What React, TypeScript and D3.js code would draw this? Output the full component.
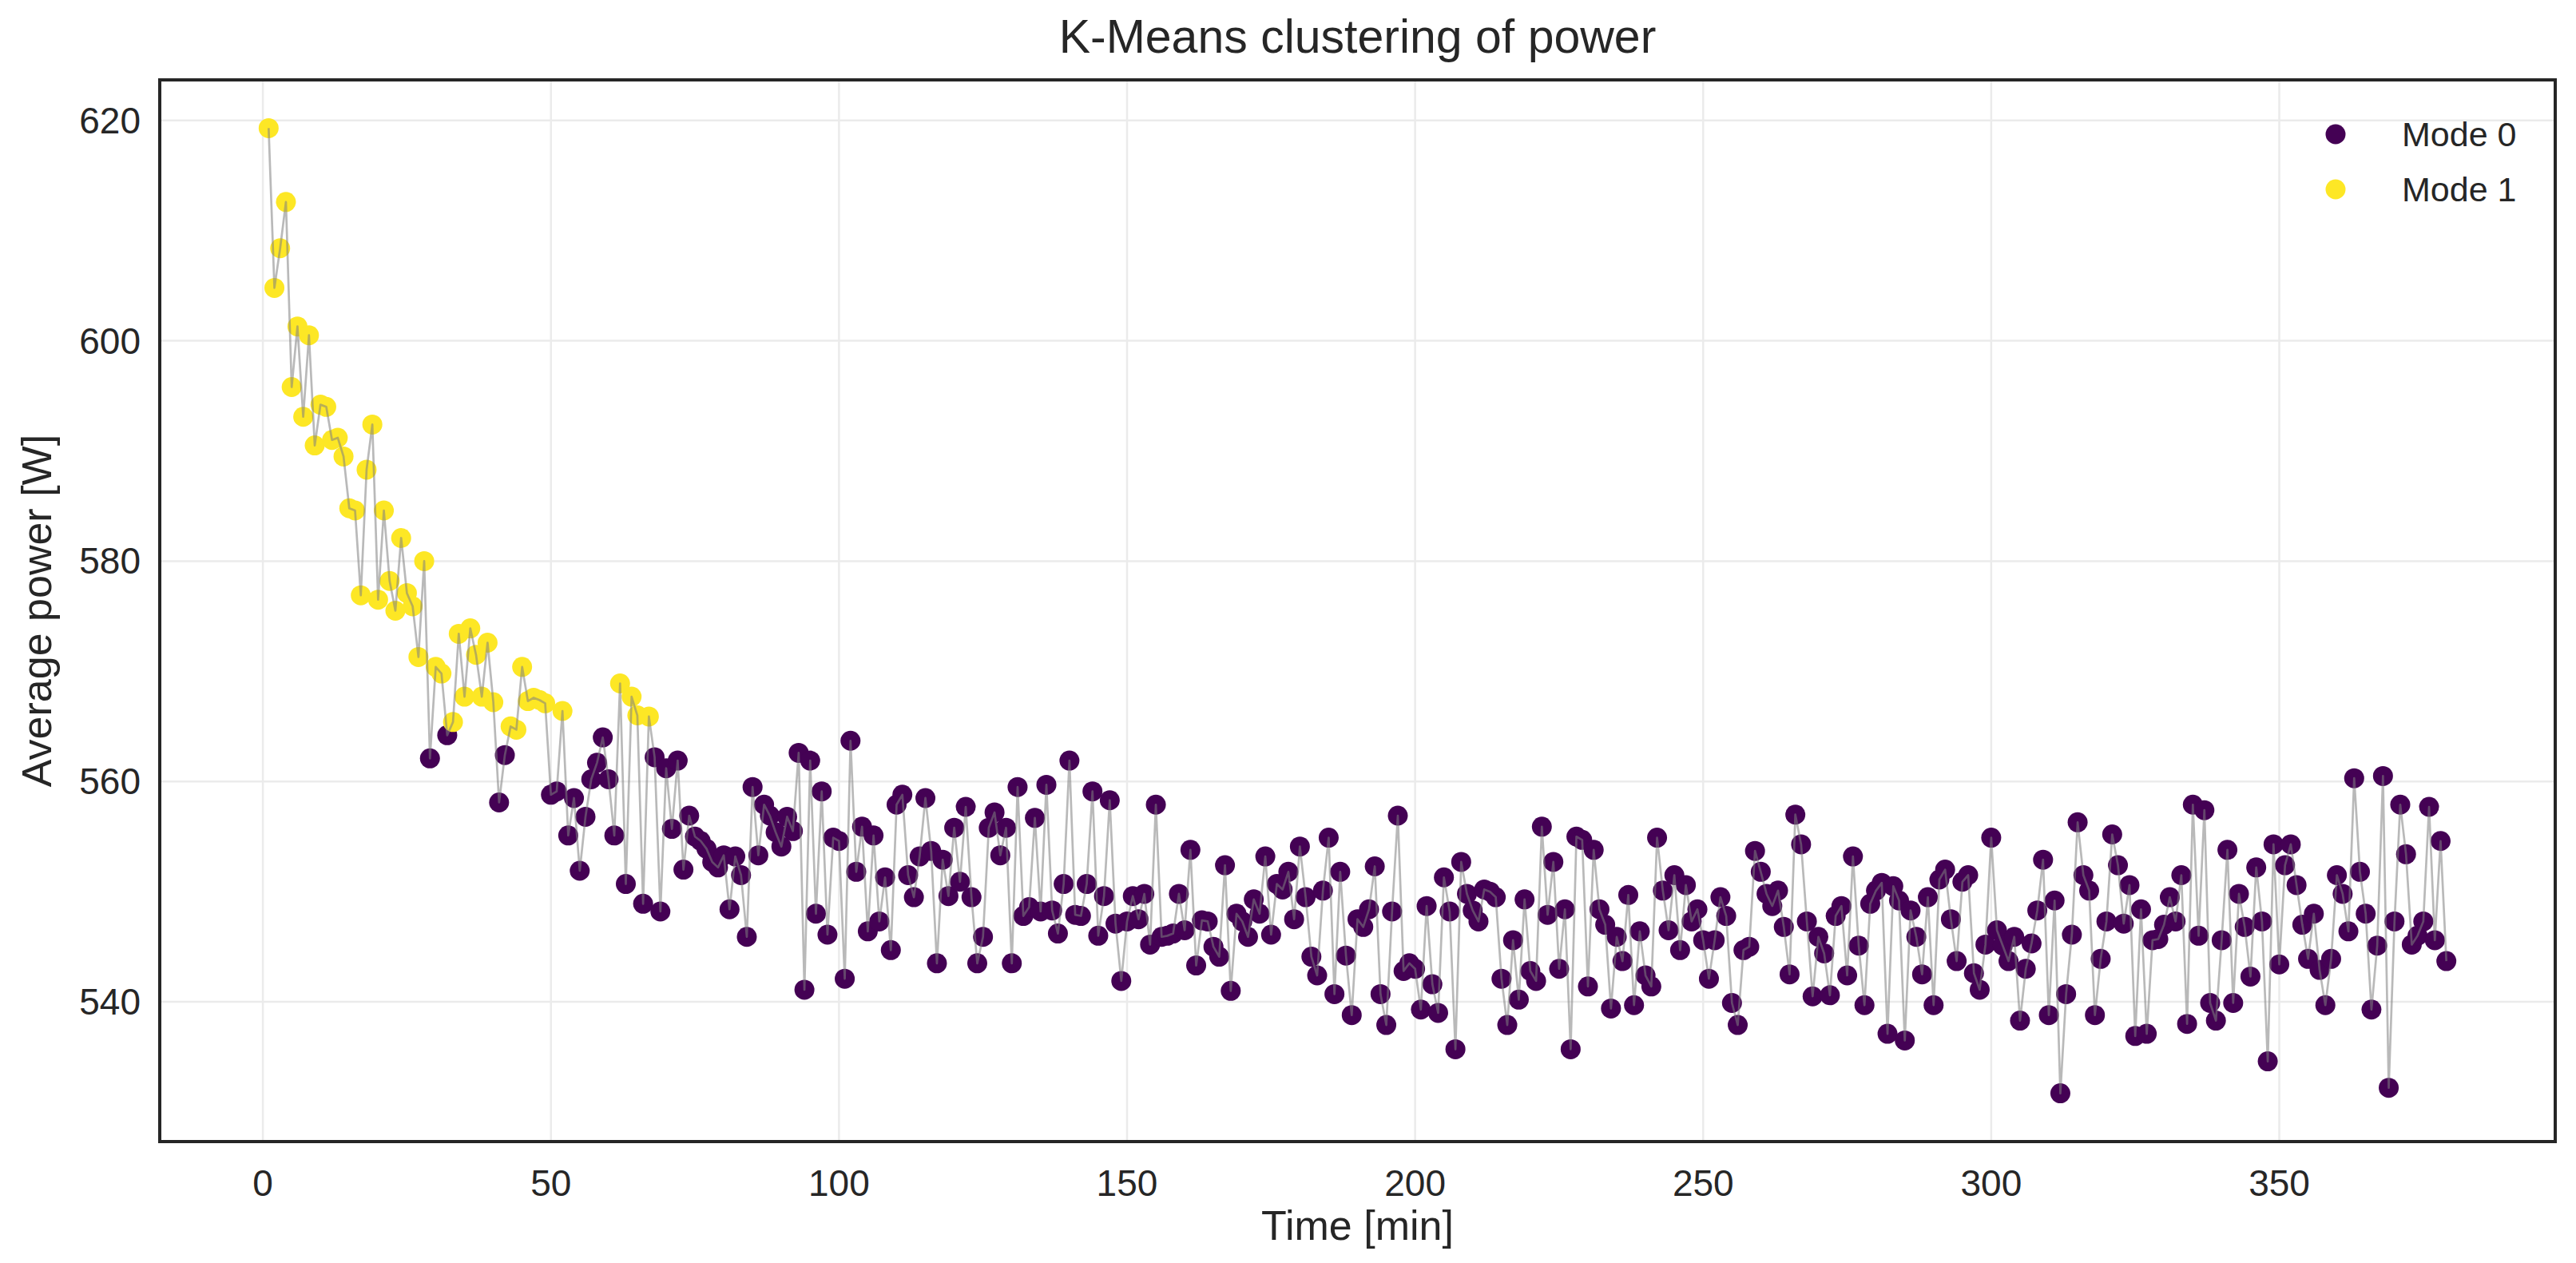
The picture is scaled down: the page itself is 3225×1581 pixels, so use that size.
import React, { useEffect, useRef } from "react";
import * as d3 from "d3";

// average power per minute (minute = index + 1)
const power = [
  619.3, 604.8, 608.4, 612.6, 595.8, 601.3, 593.1, 600.5, 590.5, 594.2,
  594.0, 591.0, 591.2, 589.5, 584.8, 584.6, 576.9, 588.3, 592.4, 576.5,
  584.6, 578.2, 575.5, 582.1, 577.1, 575.9, 571.3, 580.0, 562.1, 570.4,
  569.8, 564.2, 565.4, 573.4, 567.7, 573.9, 571.5, 567.7, 572.6, 567.2,
  558.1, 562.4, 565.0, 564.7, 570.4, 567.3, 567.6, 567.4, 567.1, 558.8,
  559.1, 566.4, 555.1, 558.5, 551.9, 556.8, 560.2, 561.7, 564.0, 560.2,
  555.1, 568.9, 550.7, 567.7, 566.0, 548.9, 565.9, 562.2, 548.2, 561.2,
  555.7, 561.9, 552.0, 556.9, 555.0, 554.6, 553.9, 552.7, 552.2, 553.3,
  548.4, 553.2, 551.5, 545.9, 559.5, 553.3, 557.9, 556.9, 555.4, 554.1,
  556.8, 555.5, 562.6, 541.1, 561.9, 548.0, 559.1, 546.1, 554.9, 554.6,
  542.1, 563.7, 551.8, 555.9, 546.4, 555.1, 547.3, 551.3, 544.7, 557.9,
  558.8, 551.5, 549.5, 553.2, 558.5, 553.7, 543.5, 552.9, 549.6, 555.8,
  550.9, 557.7, 549.5, 543.5, 545.9, 555.8, 557.2, 553.3, 555.8, 543.5,
  559.5, 547.8, 548.6, 556.7, 548.2, 559.7, 548.3, 546.2, 550.7, 561.9,
  547.9, 547.8, 550.7, 559.1, 546.0, 549.6, 558.3, 547.1, 541.9, 547.3,
  549.6, 547.5, 549.8, 545.2, 557.9, 545.9, 546.0, 546.2, 549.8, 546.5,
  553.8, 543.3, 547.4, 547.3, 545.0, 544.1, 552.4, 541.0, 548.0, 547.3,
  545.9, 549.3, 548.0, 553.2, 546.1, 550.7, 550.2, 551.8, 547.5, 554.1,
  549.5, 544.1, 542.4, 550.1, 554.9, 540.7, 551.8, 544.2, 538.8, 547.5,
  546.8, 548.4, 552.3, 540.7, 537.9, 548.2, 556.9, 542.8, 543.5, 543.0,
  539.3, 548.7, 541.6, 539.0, 551.3, 548.2, 535.7, 552.7, 549.8, 548.3,
  547.3, 550.2, 550.0, 549.5, 542.1, 537.9, 545.6, 540.2, 549.3, 542.8,
  541.9, 555.9, 547.9, 552.7, 543.0, 548.4, 535.7, 555.0, 554.7, 541.4,
  553.8, 548.4, 547.0, 539.4, 545.9, 543.7, 549.7, 539.7, 546.4, 542.4,
  541.4, 554.9, 550.1, 546.5, 551.5, 544.7, 550.6, 547.3, 548.4, 545.6,
  542.1, 545.6, 549.5, 547.8, 539.9, 537.9, 544.7, 545.0, 553.7, 551.8,
  549.8, 548.7, 550.1, 546.8, 542.5, 557.0, 554.3, 547.3, 540.5, 545.9,
  544.4, 540.6, 547.8, 548.7, 542.4, 553.2, 545.1, 539.7, 548.9, 550.1,
  550.8, 537.1, 550.5, 549.2, 536.5, 548.3, 545.9, 542.5, 549.5, 539.7,
  551.1, 552.0, 547.5, 543.7, 550.9, 551.5, 542.6, 541.1, 545.2, 554.9,
  546.5, 545.1, 543.7, 545.9, 538.3, 543.0, 545.3, 548.3, 552.9, 538.8,
  549.2, 531.7, 540.7, 546.1, 556.3, 551.5, 550.1, 538.8, 543.9, 547.3,
  555.2, 552.4, 547.1, 550.6, 536.9, 548.4, 537.1, 545.6, 545.7, 547.0,
  549.5, 547.3, 551.5, 538.0, 557.9, 546.0, 557.4, 539.9, 538.3, 545.6,
  553.8, 539.9, 549.8, 546.8, 542.3, 552.2, 547.3, 534.6, 554.3, 543.4,
  552.4, 554.3, 550.6, 547.0, 543.9, 548.0, 542.9, 539.7, 543.9, 551.5,
  549.8, 546.4, 560.3, 551.8, 548.0, 539.3, 545.1, 560.5, 532.2, 547.3,
  557.9, 553.4, 545.2, 546.0, 547.3, 557.7, 545.6, 554.6, 543.7,
];

// minutes the clustering put in Mode 1
const modeOneMinutes = [
  1, 2, 3, 4, 5, 6, 7, 8, 9, 10, 11, 12, 13, 14, 15, 16, 17, 18, 19, 20,
  21, 22, 23, 24, 25, 26, 27, 28, 30, 31, 33, 34, 35, 36, 37, 38, 39, 40,
  43, 44, 45, 46, 47, 48, 49, 52, 62, 64, 65, 67,
];

const modeNames = ["Mode 0", "Mode 1"];
const modeColors = ["#440154", "#fde725"];
const xTicks = [0, 50, 100, 150, 200, 250, 300, 350];
const yTicks = [540, 560, 580, 600, 620];

interface Sample {
  minute: number;
  power: number;
  mode: number;
}

export default function App() {
  const svgRef = useRef<SVGSVGElement | null>(null);

  useEffect(() => {
    document.body.style.margin = "0";
    document.body.style.overflow = "hidden";

    const width = 3225;
    const height = 1581;
    const margin = { top: 100, right: 26, bottom: 152, left: 200 };
    const font = "'Liberation Sans', Arial, sans-serif";
    const ink = "#262626";

    const data: Sample[] = power.map((p, i) => ({
      minute: i + 1,
      power: p,
      mode: modeOneMinutes.includes(i + 1) ? 1 : 0,
    }));

    // matplotlib style 5% padding
    const [x0, x1] = d3.extent(data, (d) => d.minute) as [number, number];
    const [y0, y1] = d3.extent(data, (d) => d.power) as [number, number];
    const xPad = (x1 - x0) * 0.05;
    const yPad = (y1 - y0) * 0.05;

    const x = d3
      .scaleLinear()
      .domain([x0 - xPad, x1 + xPad])
      .range([margin.left, width - margin.right]);
    const y = d3
      .scaleLinear()
      .domain([y0 - yPad, y1 + yPad])
      .range([height - margin.bottom, margin.top]);

    const svg = d3.select(svgRef.current);
    svg.selectAll("*").remove();
    svg.attr("width", width).attr("height", height);

    svg.append("rect").attr("width", width).attr("height", height).attr("fill", "#fff");

    // grid
    svg
      .append("g")
      .selectAll("line")
      .data(xTicks)
      .join("line")
      .attr("x1", (d) => x(d))
      .attr("x2", (d) => x(d))
      .attr("y1", margin.top)
      .attr("y2", height - margin.bottom)
      .attr("stroke", "#ebebeb")
      .attr("stroke-width", 2.5);
    svg
      .append("g")
      .selectAll("line")
      .data(yTicks)
      .join("line")
      .attr("x1", margin.left)
      .attr("x2", width - margin.right)
      .attr("y1", (d) => y(d))
      .attr("y2", (d) => y(d))
      .attr("stroke", "#ebebeb")
      .attr("stroke-width", 2.5);

    // points
    svg
      .append("g")
      .selectAll("circle")
      .data(data)
      .join("circle")
      .attr("cx", (d) => x(d.minute))
      .attr("cy", (d) => y(d.power))
      .attr("r", 12.5)
      .attr("fill", (d) => modeColors[d.mode]);

    // connecting line on top
    const line = d3
      .line<Sample>()
      .x((d) => x(d.minute))
      .y((d) => y(d.power));
    svg
      .append("path")
      .datum(data)
      .attr("d", line)
      .attr("fill", "none")
      .attr("stroke", "#808080")
      .attr("stroke-opacity", 0.55)
      .attr("stroke-width", 2.7)
      .attr("stroke-linejoin", "round");

    // frame
    svg
      .append("rect")
      .attr("x", margin.left)
      .attr("y", margin.top)
      .attr("width", width - margin.left - margin.right)
      .attr("height", height - margin.top - margin.bottom)
      .attr("fill", "none")
      .attr("stroke", ink)
      .attr("stroke-width", 4);

    // tick labels
    svg
      .append("g")
      .selectAll("text")
      .data(xTicks)
      .join("text")
      .attr("x", (d) => x(d))
      .attr("y", height - margin.bottom + 68)
      .attr("text-anchor", "middle")
      .attr("font-family", font)
      .attr("font-size", 46)
      .attr("fill", ink)
      .text((d) => d);
    svg
      .append("g")
      .selectAll("text")
      .data(yTicks)
      .join("text")
      .attr("x", margin.left - 24)
      .attr("y", (d) => y(d) + 16)
      .attr("text-anchor", "end")
      .attr("font-family", font)
      .attr("font-size", 46)
      .attr("fill", ink)
      .text((d) => d);

    // axis labels and title
    svg
      .append("text")
      .attr("x", (margin.left + width - margin.right) / 2)
      .attr("y", 1552)
      .attr("text-anchor", "middle")
      .attr("font-family", font)
      .attr("font-size", 52)
      .attr("fill", ink)
      .text("Time [min]");
    svg
      .append("text")
      .attr("transform", `translate(64, ${(margin.top + height - margin.bottom) / 2}) rotate(-90)`)
      .attr("text-anchor", "middle")
      .attr("font-family", font)
      .attr("font-size", 52)
      .attr("fill", ink)
      .text("Average power [W]");
    svg
      .append("text")
      .attr("x", (margin.left + width - margin.right) / 2)
      .attr("y", 66)
      .attr("text-anchor", "middle")
      .attr("font-family", font)
      .attr("font-size", 59)
      .attr("fill", ink)
      .text("K-Means clustering of power");

    // legend
    const legend = svg
      .append("g")
      .selectAll("g")
      .data(modeNames)
      .join("g")
      .attr("transform", (_, i) => `translate(2924, ${168 + i * 69})`);
    legend
      .append("circle")
      .attr("r", 12.5)
      .attr("fill", (_, i) => modeColors[i]);
    legend
      .append("text")
      .attr("x", 83)
      .attr("y", 15)
      .attr("font-family", font)
      .attr("font-size", 43)
      .attr("fill", ink)
      .text((d) => d);
  }, []);

  return (
    <div style={{ position: "absolute", left: 0, top: 0 }}>
      <svg ref={svgRef}></svg>
    </div>
  );
}
